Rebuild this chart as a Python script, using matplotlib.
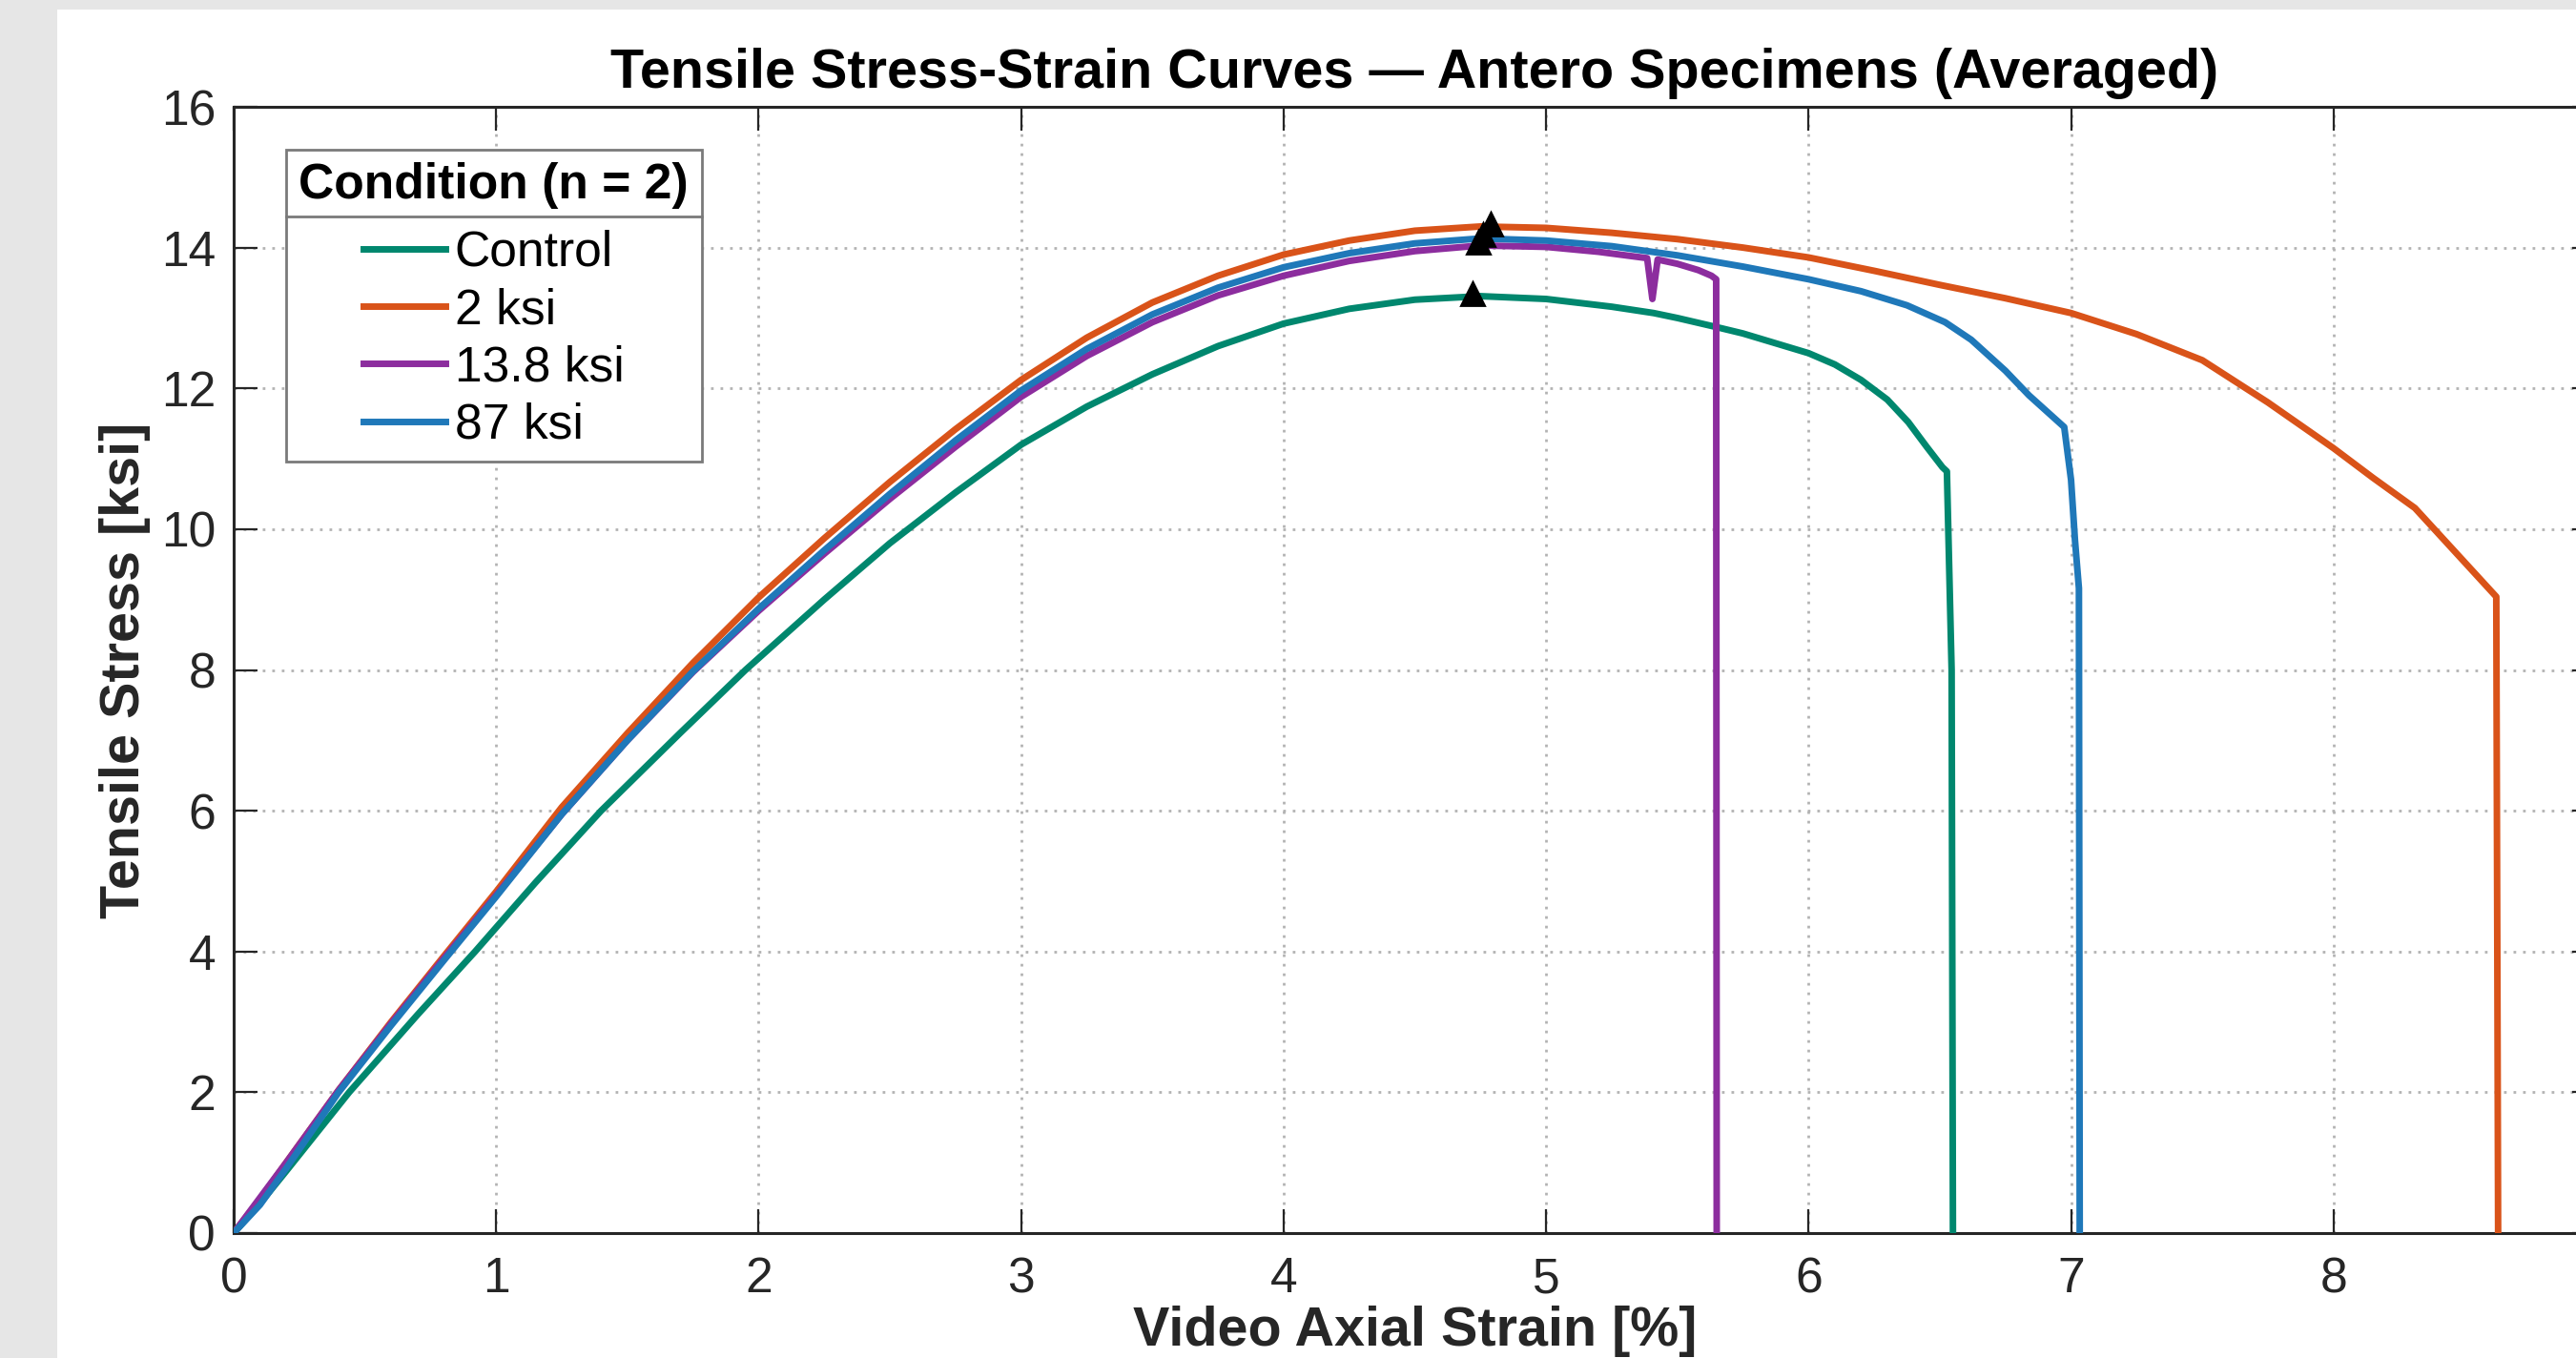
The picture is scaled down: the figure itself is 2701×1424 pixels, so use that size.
import matplotlib
matplotlib.use('Agg')
import matplotlib.pyplot as plt
from matplotlib.patches import Rectangle
from matplotlib.lines import Line2D

plt.rcParams['font.family'] = ['Liberation Sans', 'DejaVu Sans']

# ---------------- data ----------------
conditions = ['Control', '2 ksi', '13.8 ksi', '87 ksi']
colors = ['#00876E', '#D95319', '#8C2D9E', '#1F78B9']

strain_control = [0, 0.1, 0.2, 0.44, 0.7, 0.92, 1.15, 1.4, 1.7, 1.95, 2.25, 2.5, 2.75,
                  3.0, 3.25, 3.5, 3.75, 4.0, 4.25, 4.5, 4.75, 5.0, 5.25, 5.41, 5.5, 5.65,
                  5.75, 6.0, 6.1, 6.2, 6.3, 6.38, 6.45, 6.51, 6.527, 6.545, 6.55]
stress_control = [0, 0.42, 0.88, 2.0, 3.1, 4.0, 4.98, 6.0, 7.1, 8.0, 9.0, 9.8, 10.52,
                  11.2, 11.74, 12.2, 12.6, 12.92, 13.13, 13.26, 13.31, 13.27, 13.16, 13.07, 13.0, 12.87,
                  12.78, 12.5, 12.34, 12.12, 11.84, 11.52, 11.17, 10.88, 10.82, 8.0, 0]

strain_2ksi = [0, 0.1, 0.2, 0.4, 0.6, 0.8, 1.0, 1.25, 1.5, 1.75, 2.0, 2.25, 2.5, 2.75,
               3.0, 3.25, 3.5, 3.75, 4.0, 4.25, 4.5, 4.75, 5.0, 5.25, 5.5, 5.75, 6.0,
               6.25, 6.5, 6.75, 7.0, 7.25, 7.5, 7.75, 8.0, 8.15, 8.31, 8.62, 8.627]
stress_2ksi = [0, 0.48, 1.0, 2.03, 3.0, 3.93, 4.85, 6.05, 7.1, 8.1, 9.03, 9.87, 10.67, 11.42,
               12.12, 12.72, 13.22, 13.6, 13.9, 14.1, 14.24, 14.3, 14.28, 14.21, 14.12, 14.0, 13.86,
               13.67, 13.47, 13.28, 13.07, 12.77, 12.4, 11.8, 11.15, 10.73, 10.3, 9.04, 0]

strain_13p8ksi = [0, 0.1, 0.2, 0.4, 0.6, 0.8, 1.0, 1.25, 1.5, 1.75, 2.0, 2.25, 2.5, 2.75,
                  3.0, 3.25, 3.5, 3.75, 4.0, 4.25, 4.5, 4.75, 5.0, 5.2, 5.385, 5.405, 5.425,
                  5.5, 5.58, 5.63, 5.648, 5.65]
stress_13p8ksi = [0, 0.5, 1.0, 2.03, 2.98, 3.9, 4.8, 5.95, 7.0, 7.97, 8.84, 9.65, 10.43, 11.17,
                  11.88, 12.46, 12.94, 13.32, 13.6, 13.81, 13.95, 14.03, 14.01, 13.94, 13.85, 13.27, 13.83,
                  13.77, 13.68, 13.6, 13.55, 0]

strain_87ksi = [0, 0.1, 0.2, 0.4, 0.6, 0.8, 1.0, 1.25, 1.5, 1.75, 2.0, 2.25, 2.5, 2.75,
                3.0, 3.25, 3.5, 3.75, 4.0, 4.25, 4.5, 4.75, 5.0, 5.25, 5.5, 5.75, 6.0,
                6.2, 6.375, 6.52, 6.62, 6.75, 6.84, 6.974, 7.0, 7.015, 7.03, 7.033]
stress_87ksi = [0, 0.4, 0.92, 2.0, 2.95, 3.87, 4.78, 5.95, 7.0, 7.98, 8.87, 9.7, 10.5, 11.26,
                11.97, 12.56, 13.05, 13.43, 13.72, 13.92, 14.06, 14.13, 14.1, 14.02, 13.89, 13.73, 13.55,
                13.38, 13.18, 12.94, 12.69, 12.25, 11.9, 11.45, 10.7, 9.84, 9.16, 0]

peak_strain = [4.72, 4.79, 4.74, 4.76]
peak_stress = [13.34, 14.34, 14.08, 14.19]

x_ticks = [0, 1, 2, 3, 4, 5, 6, 7, 8]
y_ticks = [0, 2, 4, 6, 8, 10, 12, 14, 16]

title_text = 'Tensile Stress-Strain Curves \u2014 Antero Specimens (Averaged)'
xlabel_text = 'Video Axial Strain [%]'
ylabel_text = 'Tensile Stress [ksi]'
legend_title = 'Condition (n = 2)'

series = [(strain_control, stress_control), (strain_2ksi, stress_2ksi),
          (strain_13p8ksi, stress_13p8ksi), (strain_87ksi, stress_87ksi)]

# ---------------- figure ----------------
W, H, DPI = 2701, 1424, 200
fig = plt.figure(figsize=(W / DPI, H / DPI), dpi=DPI, facecolor='#e6e6e6')
fig.add_artist(Rectangle((60 / W, 0), 1 - 60 / W, 1 - 10 / H, transform=fig.transFigure,
                         facecolor='white', edgecolor='none', zorder=-10))

ax = fig.add_axes([245 / W, (H - 1293) / H, 2477 / W, 1181 / H])
ax.set_facecolor('white')

for (xs, ys), name, c in zip(series, conditions, colors):
    ax.plot(xs, ys, color=c, lw=2.5, label=name, zorder=3)

ax.plot(peak_strain, peak_stress, linestyle='none', marker='^', ms=8.8,
        color='black', zorder=5)

ax.set_xlim(0, 9)
ax.set_ylim(0, 16)
ax.set_xticks(x_ticks)
ax.set_yticks(y_ticks)

ax.grid(True, color='#b3b3b3', linestyle=(0, (1, 2.6)), linewidth=1.0)
ax.set_axisbelow(True)

ax.tick_params(direction='in', length=9, width=0.8, top=True, right=True,
               labelsize=18.6, colors='#262626')
ax.tick_params(axis='x', pad=8.8)
ax.tick_params(axis='y', pad=6.8)
for s in ax.spines.values():
    s.set_linewidth(1.1)
    s.set_color('#262626')

ax.set_title(title_text, fontsize=20.7, fontweight='bold', pad=7.2, color='black')
ax.set_xlabel(xlabel_text, fontsize=20.7, fontweight='bold', color='#262626', va='baseline')
ax.xaxis.set_label_coords(0.5, -(1411 - 1293) / 1181)
ax.set_ylabel(ylabel_text, fontsize=20.7, fontweight='bold', color='#262626',
              va='baseline', rotation_mode='anchor')
ax.yaxis.set_label_coords((146 - 245) / 2477, 0.5)

leg = ax.legend(loc='upper left',
                bbox_to_anchor=((300 - 245) / 2477, 1 - (157 - 112) / 1181),
                borderaxespad=0, title=legend_title,
                title_fontproperties={'weight': 'bold', 'size': 18.6},
                fontsize=18.6, frameon=True, fancybox=False, edgecolor='#7a7a7a',
                framealpha=1, handlelength=1.66, handletextpad=0.19,
                borderpad=0.26, labelspacing=0.22)
leg.get_frame().set_linewidth(1.0)
leg.set_zorder(10)
# larger gap between legend title and the entries (as in the reference)
try:
    leg._legend_box.sep = 0.22 * 18.6 + 3.6
except Exception:
    pass

# divider line between legend title and entries
fig.canvas.draw()
r = fig.canvas.get_renderer()
tb = leg.get_title().get_window_extent(r)
eb = leg.get_texts()[0].get_window_extent(r)
fb = leg.get_frame().get_window_extent(r)
ydiv = tb.y0 - 0.35 * (tb.y0 - eb.y1)
fig.add_artist(Line2D([fb.x0 / W, fb.x1 / W], [ydiv / H, ydiv / H], transform=fig.transFigure,
                      color='#7a7a7a', lw=1.0, zorder=20))

fig.savefig('out.png', dpi=DPI, facecolor=fig.get_facecolor())
